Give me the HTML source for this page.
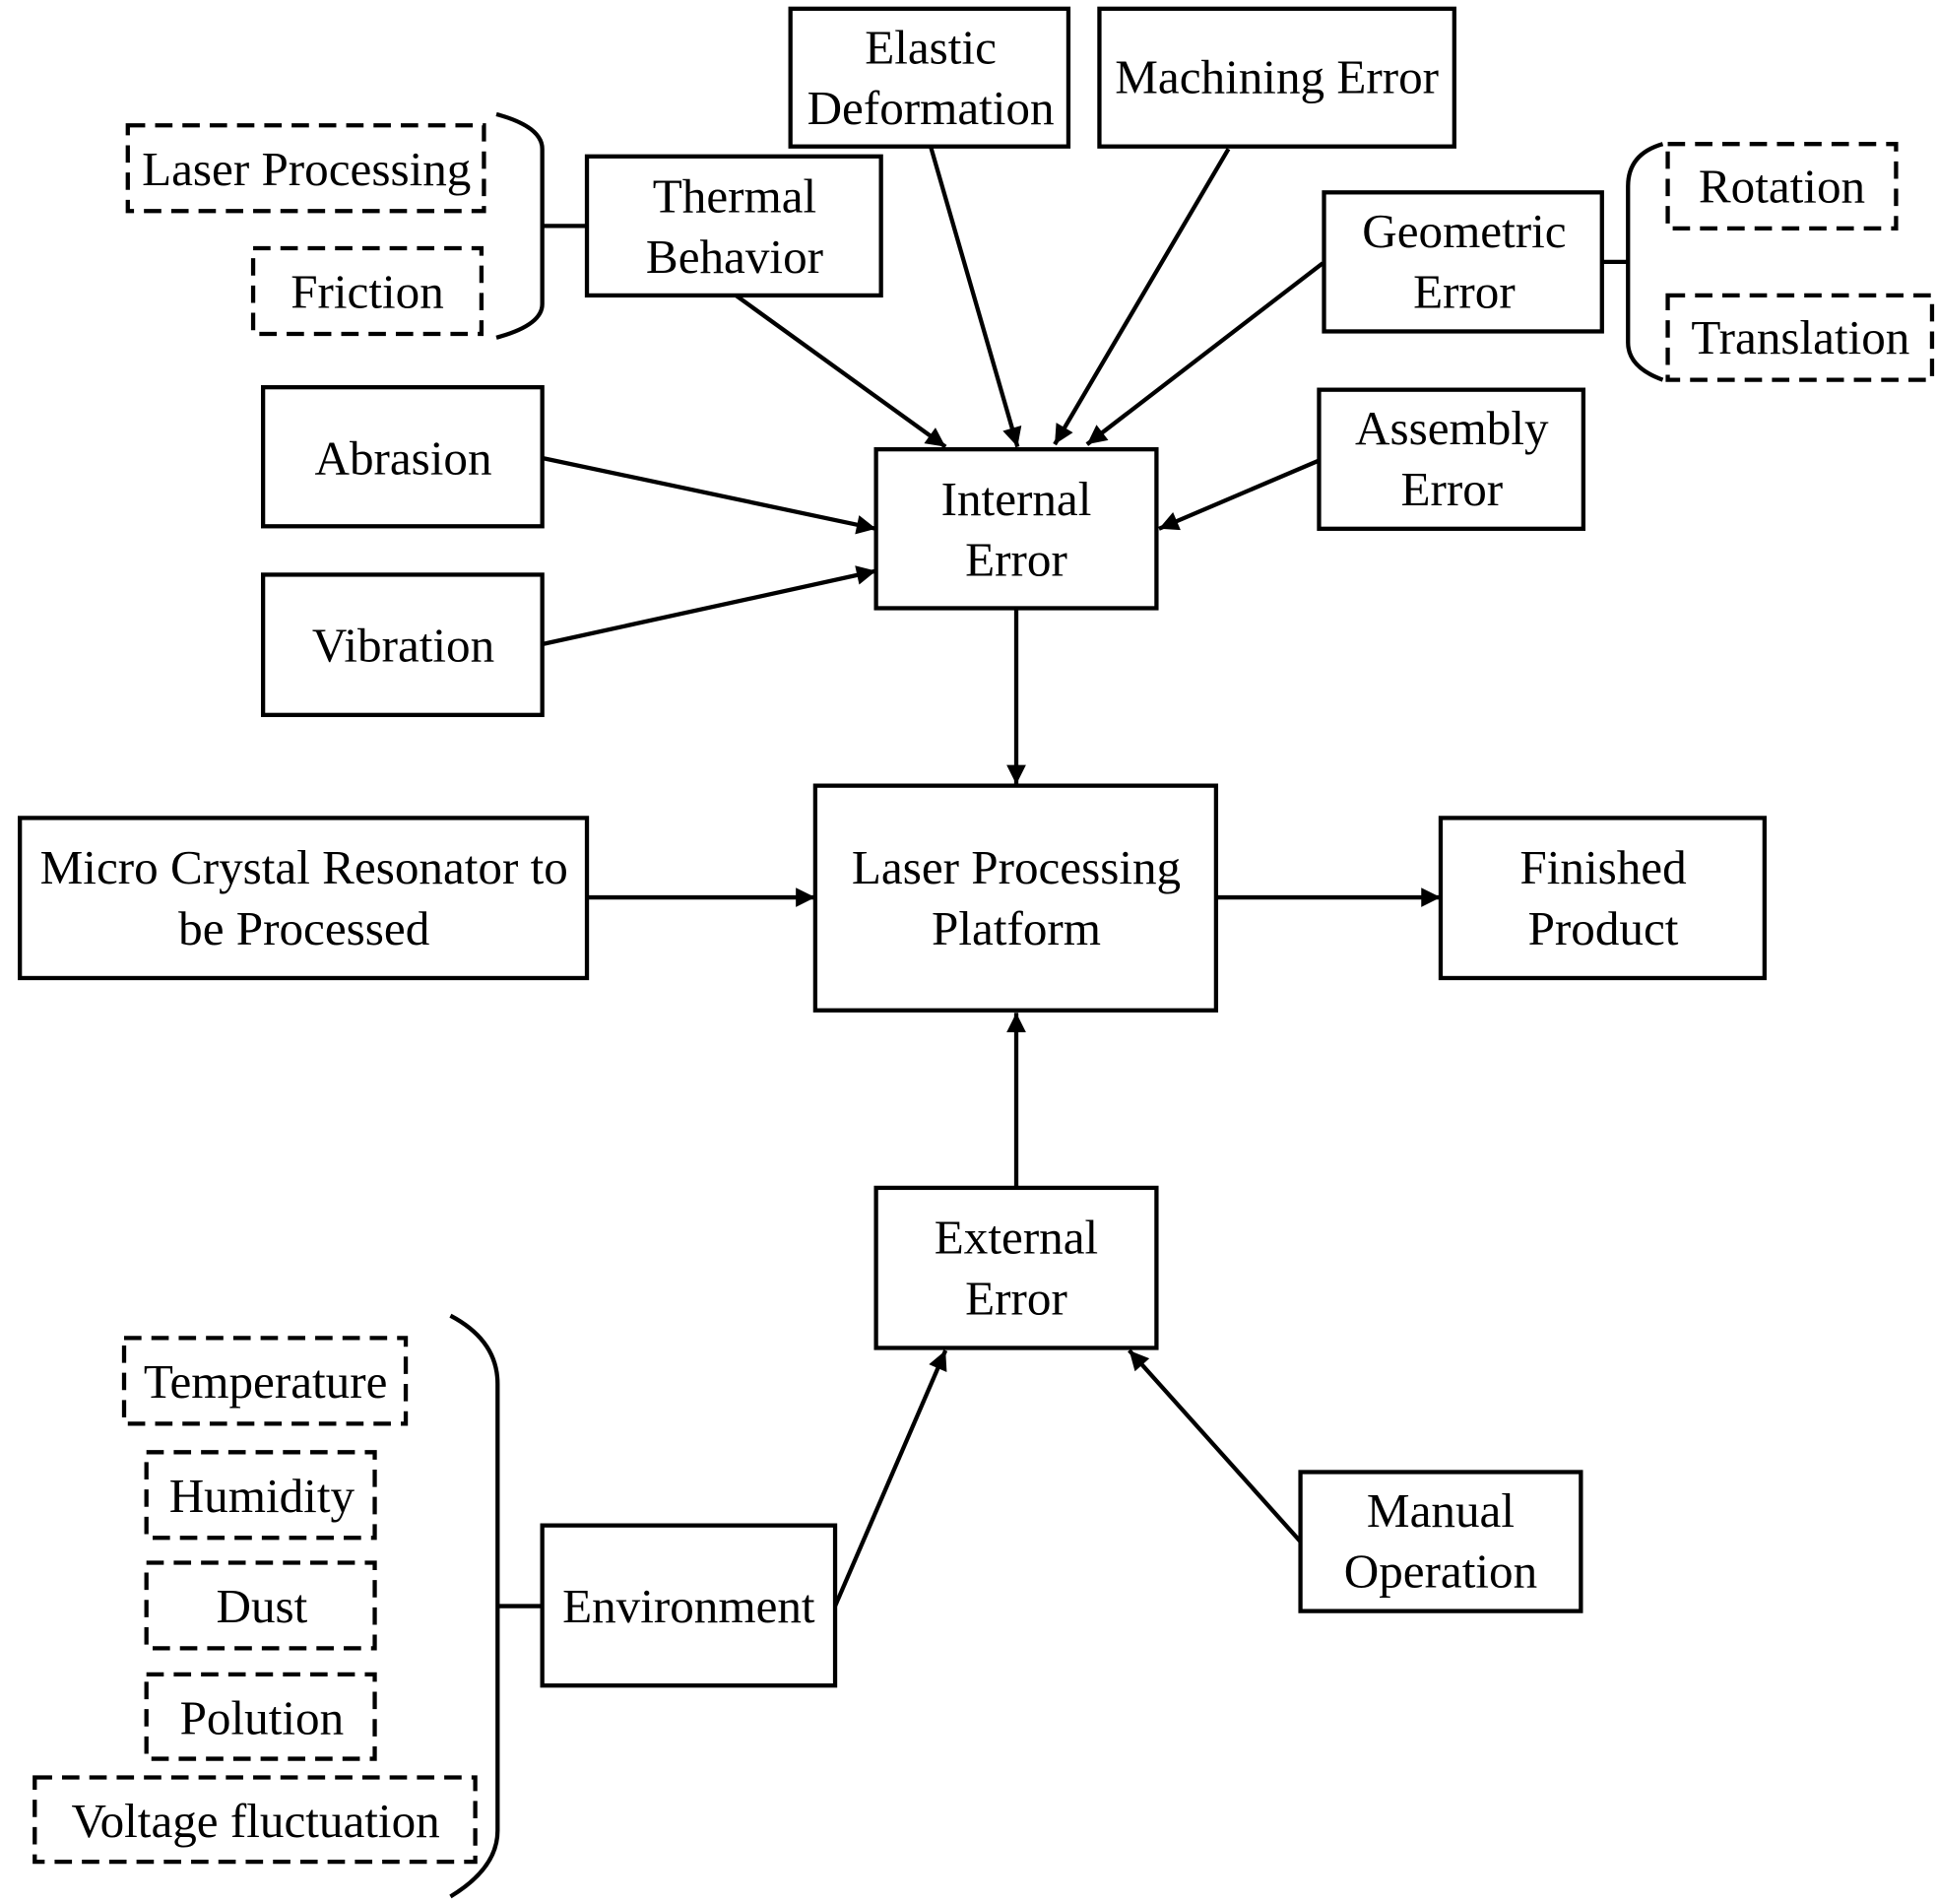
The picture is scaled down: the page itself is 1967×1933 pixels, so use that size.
<!DOCTYPE html>
<html><head><meta charset="utf-8"><style>html,body{margin:0;padding:0;background:#fff}svg{display:block}</style></head><body>
<svg xmlns="http://www.w3.org/2000/svg" width="1967" height="1933" viewBox="0 0 1561 1534">
<defs><marker id="a" viewBox="0 0 10 10" refX="10" refY="5" markerWidth="5.2" markerHeight="4.6" orient="auto" markerUnits="strokeWidth"><path d="M0,0L10,5L0,10z" fill="#000"/></marker></defs>
<g fill="none" stroke="#000" stroke-width="3.4">
<rect x="473" y="126" width="237" height="112"/>
<rect x="637" y="7" width="224" height="111"/>
<rect x="886" y="7" width="286" height="111"/>
<rect x="1067" y="155" width="224" height="112"/>
<rect x="212" y="312" width="225" height="112"/>
<rect x="212" y="463" width="225" height="113"/>
<rect x="706" y="362" width="226" height="128"/>
<rect x="1063" y="314" width="213" height="112"/>
<rect x="657" y="633" width="323" height="181"/>
<rect x="16" y="659" width="457" height="129"/>
<rect x="1161" y="659" width="261" height="129"/>
<rect x="706" y="957" width="226" height="129"/>
<rect x="437" y="1229" width="236" height="129"/>
<rect x="1048" y="1186" width="226" height="112"/>
<g stroke-dasharray="14 8">
<rect x="103" y="101" width="287" height="69"/>
<rect x="204" y="200" width="184" height="69"/>
<rect x="1344" y="116" width="184" height="68"/>
<rect x="1344" y="238" width="213" height="68"/>
<rect x="100" y="1078" width="227" height="69"/>
<rect x="118" y="1170" width="184" height="69"/>
<rect x="118" y="1259" width="184" height="69"/>
<rect x="118" y="1349" width="184" height="68"/>
<rect x="28" y="1432" width="355" height="68"/>
</g>
<path d="M400,92 Q437,102 437,120 L437,245 Q437,262 400,272"/>
<path d="M437,182H473"/>
<path d="M1340,116 Q1312,124 1312,150 L1312,276 Q1312,296 1340,306"/>
<path d="M1291,211H1312"/>
<path d="M363,1060 Q401,1080 401,1115 L401,1475 Q401,1505 363,1528"/>
<path d="M401,1294H437"/>
<g marker-end="url(#a)">
<path d="M593,238L762,360"/>
<path d="M750,118L820,360"/>
<path d="M990,120L850,358"/>
<path d="M1066,212L876,358"/>
<path d="M437,369L706,426"/>
<path d="M437,519L706,460"/>
<path d="M1063,371L934,426"/>
<path d="M819,490L819,632"/>
<path d="M473,723L657,723"/>
<path d="M980,723L1161,723"/>
<path d="M819,957L819,816"/>
<path d="M673,1294L762,1088"/>
<path d="M1048,1242L910,1088"/>
</g>
</g>
<g font-family="Liberation Serif, serif" font-size="39" text-anchor="middle" fill="#000">
<text x="247" y="149">Laser Processing</text>
<text x="296" y="248">Friction</text>
<text x="592" y="171">Thermal</text><text x="592" y="220">Behavior</text>
<text x="750" y="51">Elastic</text><text x="750" y="100">Deformation</text>
<text x="1029" y="75">Machining Error</text>
<text x="1180" y="199">Geometric</text><text x="1180" y="248">Error</text>
<text x="1436" y="163">Rotation</text>
<text x="1451" y="285">Translation</text>
<text x="325" y="382">Abrasion</text>
<text x="325" y="533">Vibration</text>
<text x="819" y="415">Internal</text><text x="819" y="464">Error</text>
<text x="1170" y="358">Assembly</text><text x="1170" y="407">Error</text>
<text x="819" y="712">Laser Processing</text><text x="819" y="761">Platform</text>
<text x="245" y="712">Micro Crystal Resonator to</text><text x="245" y="761">be Processed</text>
<text x="1292" y="712">Finished</text><text x="1292" y="761">Product</text>
<text x="819" y="1010">External</text><text x="819" y="1059">Error</text>
<text x="555" y="1307">Environment</text>
<text x="1161" y="1230">Manual</text><text x="1161" y="1279">Operation</text>
<text x="214" y="1126">Temperature</text>
<text x="211" y="1218">Humidity</text>
<text x="211" y="1307">Dust</text>
<text x="211" y="1397">Polution</text>
<text x="206" y="1480">Voltage fluctuation</text>
</g>
</svg>
</body></html>
